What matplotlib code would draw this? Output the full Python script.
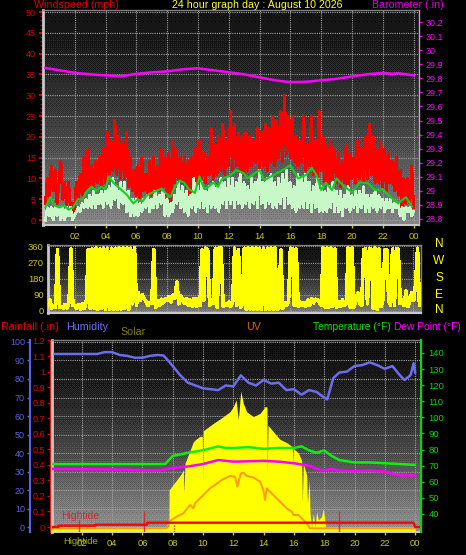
import matplotlib
matplotlib.use('Agg')
import matplotlib.pyplot as plt
import numpy as np

W, H = 466, 555

# hourly axis labels
hour_ticks = [2, 4, 6, 8, 10, 12, 14, 16, 18, 20, 22, 24]
hour_labels = ['02', '04', '06', '08', '10', '12', '14', '16', '18', '20', '22', '00']

# wind, 8 samples an hour
gust = [4, 10, 5, 13, 7, 12, 4, 9,
        14, 5, 9, 3, 9, 3, 4, 2,
        9, 5, 11, 6, 15, 7, 17, 8,
        13, 8, 14, 9, 15, 8, 17, 9,
        21, 11, 19, 12, 24, 11, 20, 10,
        19, 10, 21, 8, 15, 7, 12, 6,
        13, 5, 15, 7, 11, 5, 14, 6,
        15, 6, 13, 7, 17, 8, 15, 6,
        16, 4, 19, 9, 17, 8, 15, 9,
        15, 8, 14, 5, 15, 8, 17, 9,
        19, 10, 16, 9, 15, 11, 22, 10,
        18, 11, 20, 12, 23, 11, 19, 13,
        26, 12, 23, 13, 21, 12, 20, 11,
        21, 12, 20, 13, 19, 14, 22, 12,
        21, 13, 23, 12, 22, 14, 25, 13,
        24, 15, 26, 14, 30, 16, 25, 15,
        25, 14, 20, 13, 19, 14, 25, 12,
        18, 13, 25, 11, 19, 10, 26, 12,
        20, 9, 18, 8, 19, 10, 17, 9,
        16, 8, 14, 9, 18, 8, 16, 10,
        15, 9, 19, 10, 17, 9, 20, 10,
        23, 11, 20, 9, 17, 9, 19, 8,
        17, 7, 16, 9, 14, 7, 15, 6,
        12, 3, 10, 4, 10, 4, 13, 3]
wind = [0, 3, 1, 3, 0, 3, 1, 3,
        0, 3, 0, 3, 1, 3, 0, 1,
        2, 3, 2, 4, 3, 5, 3, 6,
        3, 7, 3, 6, 4, 7, 3, 7,
        4, 8, 3, 10, 5, 8, 3, 9,
        4, 9, 2, 7, 1, 5, 1, 5,
        1, 4, 2, 5, 3, 6, 2, 5,
        3, 7, 3, 6, 4, 7, 1, 5,
        1, 4, 2, 6, 4, 9, 3, 8,
        2, 7, 1, 6, 3, 10, 2, 8,
        3, 9, 3, 7, 2, 8, 3, 9,
        3, 8, 2, 10, 4, 9, 3, 10,
        4, 10, 3, 9, 4, 11, 3, 9,
        4, 8, 3, 10, 4, 9, 3, 12,
        4, 9, 3, 10, 4, 11, 3, 9,
        3, 10, 4, 11, 3, 12, 4, 9,
        3, 8, 2, 11, 3, 10, 3, 11,
        3, 9, 2, 8, 3, 10, 2, 8,
        2, 7, 2, 8, 3, 9, 2, 7,
        2, 7, 1, 6, 3, 8, 2, 6,
        3, 7, 2, 7, 3, 8, 2, 6,
        2, 6, 3, 7, 2, 6, 3, 5,
        2, 5, 3, 5, 2, 4, 3, 4,
        1, 3, 0, 3, 2, 3, 1, 2]
wind_avg_hours = [0.1, 0.4, 0.7, 1.0, 1.3, 1.6, 1.9, 2.2, 2.5, 2.8, 3.1, 3.4, 3.7, 4.0, 4.2, 4.5, 4.8,
                  5.1, 5.4, 5.8, 6.1, 6.4, 6.7, 7.0, 7.3, 7.6, 7.9, 8.2, 8.5, 8.8, 9.1, 9.4, 9.8,
                  10.1, 10.4, 10.7, 11.0, 11.3, 11.6, 12.0, 12.5, 13.0, 13.2, 13.6, 14.0, 14.3, 15.0,
                  15.5, 16.0, 16.5, 17.0, 17.4, 17.7, 18.0, 18.3, 18.7, 19.0, 19.5, 20.0, 20.5, 21.0,
                  21.5, 22.0, 22.5, 23.0, 23.5, 23.9]
wind_avg = [3, 5.5, 3.5, 3, 3.5, 2.5, 3, 5, 5, 7, 8, 7, 8, 7.5, 10.5, 9, 8,
            7, 6, 4, 5, 4.5, 6, 6.5, 7, 7.5, 6.5, 5.5, 8, 9.5, 9, 7.5, 6.5,
            10.5, 7.5, 8, 9, 8, 10, 10.5, 12, 11.2, 10, 11, 12, 9.6, 11,
            12, 13.2, 10, 10.8, 12.5, 10.8, 7.2, 9, 7.2, 10, 8, 6.7, 9, 8.9,
            7.2, 7.4, 5.5, 4, 5.5, 3.2]

baro_hours = [0.1, 1, 2, 3, 4, 5, 6, 7, 8, 9, 10, 11, 12, 13, 14, 15, 16, 17, 18, 19, 20, 21, 22, 22.6, 23, 24]
baro = [29.873, 29.857, 29.839, 29.828, 29.821, 29.814, 29.832, 29.842, 29.849, 29.864, 29.871, 29.857, 29.843,
        29.828, 29.807, 29.786, 29.772, 29.775, 29.786, 29.796, 29.814, 29.828, 29.839, 29.832, 29.836, 29.821]

# wind direction, 8 samples an hour
direction = [70, 60, 25, 60, 15, 30, 20, 340,
             20, 25, 15, 35, 15, 45, 345, 30,
             30, 15, 35, 10, 40, 15, 55, 340,
             15, 345, 15, 350, 10, 345, 15, 350,
             8, 350, 10, 350, 10, 350, 10, 350,
             10, 350, 15, 350, 10, 350, 40, 355,
             30, 100, 60, 90, 70, 50, 30, 45,
             40, 340, 20, 55, 30, 65, 45, 70,
             60, 80, 50, 90, 70, 160, 40, 85,
             60, 40, 70, 30, 60, 25, 70, 25,
             70, 30, 340, 60, 350, 340, 30, 60,
             40, 350, 20, 350, 350, 25, 40, 30,
             50, 25, 50, 350, 30, 340, 20, 40,
             350, 10, 350, 10, 350, 10, 350, 10,
             350, 10, 350, 10, 350, 10, 350, 10,
             350, 10, 15, 340, 15, 45, 30, 50,
             350, 345, 30, 345, 25, 50, 30, 45,
             25, 60, 30, 70, 45, 65, 60, 50,
             30, 350, 20, 350, 20, 350, 25, 345,
             20, 50, 25, 60, 30, 45, 350, 20,
             350, 20, 70, 100, 40, 30, 340, 345,
             40, 350, 340, 15, 350, 10, 345, 25,
             60, 340, 340, 60, 30, 345, 30, 345,
             345, 40, 60, 30, 110, 25, 55, 100,
             60, 150, 350, 30]

# bottom panel
humidity_hours = [0.2, 1, 2, 3, 3.5, 4, 4.5, 5, 5.5, 6, 6.5, 7, 7.4, 7.85, 8.5, 9, 10, 11, 11.5, 12, 12.5, 13, 13.5,
                  14, 14.5, 15, 15.5, 16, 16.5, 17, 17.5, 18, 18.2, 18.6, 19, 19.5, 20, 20.5, 21, 21.5, 22, 22.5,
                  23, 23.3, 23.7, 23.9, 24]
humidity = [93.5, 93.5, 93.5, 93.5, 94.5, 94.5, 93, 92.5, 91.5, 91.5, 92.5, 93, 92.7, 88.5, 82, 78, 75, 74, 76.5, 76, 82, 78, 76.5,
            79.5, 77.5, 78, 74, 74.5, 71.5, 74, 73, 70, 69, 80.5, 83.5, 84, 87, 87.5, 89, 87.5, 85.5, 87,
            82, 79.5, 82, 88.5, 83.5]
temp_hours = [0.1, 7.5, 8, 9, 10, 11, 11.5, 12, 13, 14, 15, 16, 16.5, 17, 17.5, 18, 18.5, 19, 20, 21, 22, 23, 24]
temperature = [71, 71, 76, 78, 79.6, 82, 81, 81, 81.5, 80.5, 81, 81, 82, 79.5, 78, 79.5, 76, 73.5, 72, 72, 71.5, 71, 70.5]
dew_hours = [0.1, 5, 7, 8, 9, 10, 11, 12, 14, 15, 16, 17, 17.5, 18, 18.5, 19, 20, 21, 22, 23, 24]
dew_point = [68, 67.5, 67, 68.5, 69.5, 71, 73.5, 72.5, 73, 72.5, 71.5, 70, 68, 67, 68, 67, 66.5, 67, 66.2, 64, 64]
solar_hours = [0.0, 7.75, 7.76, 8.26, 8.59, 8.7, 8.745, 8.81, 9.36, 9.47, 9.8, 9.955, 9.98, 10.02, 10.68, 11.23, 11.78,
               12.0, 12.18, 12.33, 12.49, 12.66, 12.88, 13.32, 13.76, 14.09, 14.22, 14.245, 14.29, 14.64, 15.08,
               15.52, 15.9, 15.92, 15.96, 16.29, 16.51, 16.56, 16.62, 16.84, 16.89, 17.02, 17.06, 17.17, 17.28,
               17.39, 17.5, 17.61, 17.83, 17.94, 18.1, 24.0]
solar = [0, 0, 20, 25.4, 29, 31, 18.3, 34.4, 46, 47, 49, 49, 25, 52, 56, 59, 62.3,
         65, 68.7, 58, 73.5, 66.8, 62.3, 59.6, 61.4, 65, 65, 31, 55, 51.5, 47.4,
         45.6, 43.4, 32.6, 42.5, 40, 36, 12.8, 34.4, 28, 12.8, 25.4, 7.4, 0, 7.4,
         0, 8.3, 3.8, 5.6, 10, 0, 0]
uv_hours = [0.1, 7.6, 7.76, 8.26, 8.7, 9.14, 9.36, 9.47, 9.8, 10.13, 10.46, 10.78, 11.23, 11.78, 12.11, 12.26, 12.49,
            12.66, 12.88, 13.32, 13.76, 13.98, 14.09, 14.2, 14.64, 15.08, 15.52, 15.85, 15.96, 16.29, 16.62, 16.84,
            17.06, 24.0]
uv = [-0.7, -0.7, 3, 5.6, 7.4, 11.9, 10.1, 12.8, 15.5, 18.2, 20.9, 22.7, 25.4, 27.6, 27.2, 21.8, 28.9,
      29.4, 27.6, 26.8, 24.5, 20, 14.6, 20.9, 17.3, 13.7, 10.1, 8.3, 6.5, 6.5, 3.8, 2,
      -0.7, -0.7]
rain_hours = [0.0, 0.45, 0.46, 2.9, 2.91, 6.3, 6.31, 23.9, 24.0, 24.4]
rain = [0.0, 0.0, 0.009, 0.009, 0.015, 0.015, 0.028, 0.028, 0.0, 0.0]
tide_hours = [1.8, 6.1, 19.0]
tide_tops = [0.045, 0.1, 0.1]


def panel(left, top, right, bottom):
    return fig.add_axes([left / W, 1 - bottom / H, (right - left) / W, (bottom - top) / H])


def backdrop(ax, top_grey, bottom_grey):
    # dithered grey ramp like the original image, dark for longer at the top
    box = ax.get_position()
    rows, cols = int(box.height * H), int(box.width * W)
    bayer = np.array([[0, 8, 2, 10], [12, 4, 14, 6], [3, 11, 1, 9], [15, 7, 13, 5]]) / 16
    tile = np.tile(bayer, (rows // 4 + 1, cols // 4 + 1))[:rows, :cols]
    ramp = top_grey + (bottom_grey - top_grey) * np.linspace(0, 1, rows)[:, None] ** 1.5
    img = np.floor(ramp / 22 + tile) * 22
    ax.imshow(img, extent=[0, 1, 0, 1], transform=ax.transAxes, aspect='auto', cmap='gray',
              vmin=0, vmax=255, interpolation='nearest', zorder=0)


def style(ax, edge='#c8c8c8'):
    ax.set_facecolor('black')
    for s in ax.spines.values():
        s.set_color('#808080')
        s.set_linewidth(1)
    ax.spines['left'].set_color(edge)
    ax.spines['left'].set_linewidth(2)
    ax.spines['bottom'].set_color(edge)
    ax.spines['bottom'].set_linewidth(1.5)
    ax.grid(True, color='#a0a0a0', linestyle=(0, (1, 1)), linewidth=0.8, zorder=1)
    ax.set_axisbelow(True)


def text(x, y, s, color, size=7.7, ha='left'):
    fig.text(x / W, 1 - y / H, s, color=color, fontsize=size, ha=ha, va='center')


plt.rcParams['font.family'] = ['Liberation Sans', 'DejaVu Sans']
fig = plt.figure(figsize=(W / 100, H / 100), dpi=100, facecolor='black')

# top panel: wind and barometer
ax1 = panel(43, 10, 419, 225)
backdrop(ax1, 20, 135)
style(ax1)
ax1.set_xlim(-0.06, 24.35)
ax1.set_ylim(-1.2, 50.5)
wind_x = np.linspace(0.1, 24, len(gust))
ax1.plot(wind_x, gust, color='#ff0000', lw=1.4, antialiased=False, zorder=3)
ax1.plot(wind_x, wind, color='#c8f8c8', lw=1.3, antialiased=False, zorder=4)
ax1.plot(wind_avg_hours, wind_avg, color='#10d020', lw=1.5, zorder=5)
ax1.set_xticks(hour_ticks)
ax1.set_xticklabels(hour_labels)
ax1.set_yticks(range(0, 51, 5))
ax1.set_yticks(range(0, 51), minor=True)
ax1.tick_params(axis='y', which='major', colors='#e00000', labelsize=6.5, length=3, width=1.5, pad=2)
ax1.tick_params(axis='y', which='minor', color='#c00000', length=2, width=1)
ax1.tick_params(axis='x', colors='#c8c820', labelsize=6.8, length=2, width=1, pad=3)

ax1b = ax1.twinx()
ax1b.set_ylim(28.8 - 6 / 140.7, 28.8 + 209 / 140.7)
ax1b.plot(baro_hours, baro, color='#ff00ff', lw=1.8, zorder=6)
ax1b.set_yticks(np.arange(28.8, 30.21, 0.1))
ax1b.set_yticklabels(['28.8', '28.9', '29', '29.1', '29.2', '29.3', '29.4', '29.5', '29.6', '29.7', '29.8',
                      '29.9', '30', '30.1', '30.2'])
ax1b.tick_params(axis='y', colors='#ff00ff', labelsize=6.5, length=2, width=1, pad=3)
ax1b.spines['right'].set_color('#ff80ff')
ax1b.spines['right'].set_linestyle((0, (1, 1)))
for s in ['left', 'top', 'bottom']:
    ax1b.spines[s].set_visible(False)

# middle panel: wind direction
ax2 = panel(48, 245, 421, 313)
backdrop(ax2, 15, 125)
style(ax2)
ax2.set_xlim(0.26, 24.5)
ax2.set_ylim(-12, 368)
ax2.plot(np.linspace(0, 24.4, len(direction)), direction, color='#ffff00', lw=1.9, antialiased=False, zorder=3)
ax2.set_xticks(hour_ticks)
ax2.set_xticklabels([])
ax2.set_yticks([0, 90, 180, 270, 360])
ax2.tick_params(axis='y', colors='#c8c820', labelsize=6.8, length=0, pad=3)
ax2.tick_params(axis='x', length=0)
for y, s in zip([244, 261, 278, 295, 310], ['N', 'W', 'S', 'E', 'N']):
    text(439, y, s, '#ffff00', size=8.6, ha='center')

# bottom panel: temperature axis on the right, humidity and rain on the left
ax3 = panel(52, 340, 421, 532)
backdrop(ax3, 15, 150)
style(ax3)
ax3.set_xlim(0.03, 24.39)
ax3.set_ylim(-2.7, 101.08)
ax3.fill_between(solar_hours, -2.2, solar, color='#ffff00', lw=0, zorder=3)
ax3.plot(uv_hours, uv, color='#ff9a10', lw=1.4, zorder=5)
ax3.plot(humidity_hours, humidity, color='#6c6cf0', lw=1.8, zorder=6)
ax3.set_xticks(hour_ticks)
ax3.set_xticklabels(hour_labels)
ax3.set_yticks(range(0, 101, 10))
ax3.set_yticklabels([str(v) for v in range(0, 101, 10)])
ax3.tick_params(axis='x', colors='#c8c820', labelsize=6.8, length=2, width=1, pad=3)
ax3.yaxis.set_tick_params(labelleft=False, length=0)

ax_hum = ax3.twinx()
ax_hum.set_ylim(-2.7, 101.08)
ax_hum.yaxis.set_ticks_position('left')
ax_hum.yaxis.set_label_position('left')
ax_hum.spines['left'].set_position(('outward', 16))
ax_hum.spines['left'].set_color('#6060e0')
ax_hum.spines['left'].set_linewidth(1.6)
for s in ['right', 'top', 'bottom']:
    ax_hum.spines[s].set_visible(False)
ax_hum.set_yticks(range(0, 101, 10))
ax_hum.tick_params(axis='y', colors='#6060e0', labelsize=6.5, length=2.5, width=1, pad=1)

ax_rain = ax3.twinx()
ax_rain.set_ylim(-0.032, 1.203)
ax_rain.yaxis.set_ticks_position('left')
ax_rain.spines['left'].set_color('#e02020')
ax_rain.spines['left'].set_linestyle((0, (1, 1)))
ax_rain.spines['left'].set_linewidth(0.7)
ax_rain.spines['left'].set_position(('outward', 1.5))
for s in ['right', 'top', 'bottom']:
    ax_rain.spines[s].set_visible(False)
ax_rain.set_yticks(np.arange(0, 1.21, 0.1))
ax_rain.set_yticklabels(['0', '0.1', '0.2', '0.3', '0.4', '0.5', '0.6', '0.7', '0.8', '0.9', '1', '1.1', '1.2'])
ax_rain.tick_params(axis='y', colors='#e00000', labelsize=6.5, length=2.5, width=1, pad=1)
ax_rain.plot(rain_hours, rain, color='#ff0000', lw=1.7, zorder=8)
ax_rain.vlines(tide_hours, -0.032, tide_tops, color='#d03030', lw=1, zorder=7)
ax_rain.vlines([8.1], -0.032, 0.01, color='#e03030', lw=1, linestyle=(0, (1, 1)), zorder=7)

ax_temp = ax3.twinx()
ax_temp.set_ylim(28.8, 148.07)
ax_temp.plot(temp_hours, temperature, color='#10ee10', lw=1.8, zorder=6)
ax_temp.plot(dew_hours, dew_point, color='#ff00ff', lw=1.8, zorder=6)
ax_temp.set_yticks(range(40, 141, 10))
ax_temp.tick_params(axis='y', colors='#10d010', labelsize=6.8, length=2.5, width=1, pad=3)
ax_temp.spines['right'].set_color('#10d010')
ax_temp.spines['right'].set_linestyle((0, (1, 1)))
ax_temp.spines['right'].set_linewidth(1.5)
for s in ['left', 'top', 'bottom']:
    ax_temp.spines[s].set_visible(False)

# headings
text(34, 5, 'Windspeed (mph)', '#e00000')
text(172, 5, '24 hour graph day : August 10 2026', '#ffff30')
text(372, 5, 'Barometer (.in)', '#e000e0')
text(1, 327, 'Rainfall (.in)', '#f00000')
text(66, 327, 'Humidity', '#7070f0')
text(120, 332, 'Solar', '#808000')
text(246, 327, 'UV', '#e06000')
text(313, 327, 'Temperature (\u00b0F)', '#10e010', size=7.4)
text(394, 327, 'Dew Point (\u00b0F)', '#ff00ff', size=7.4)
text(61, 516, 'Hightide', '#c03030', size=7.5)
text(63, 542, 'Hightide', '#a0b000', size=6.8)

plt.savefig('out.png', dpi=100, facecolor='black')
